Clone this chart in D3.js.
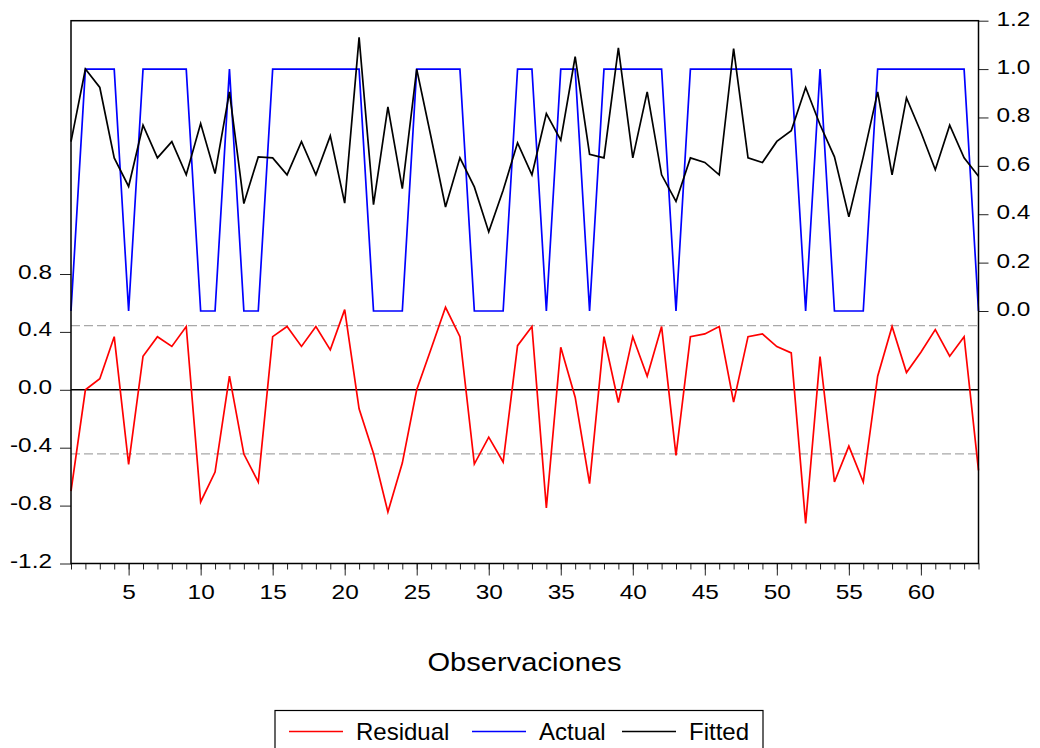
<!DOCTYPE html>
<html lang="es">
<head>
  <meta charset="UTF-8" />
  <title>Residual, Actual, Fitted</title>
  <style>
    body {
      margin: 0;
      background-color: white;
    }
    svg {
      display: block;
      font-family: 'Liberation Sans', Arial, sans-serif;
    }
    .tick line {
      stroke: #222;
    }
  </style>
  <script src="https://d3js.org/d3.v7.min.js"></script>
</head>
<body>
  <div id="chart"></div>

  <script>
    const observations = d3.range(1, 65);

    const actual = [
      0, 1, 1, 1, 0, 1, 1, 1, 1, 0, 0, 1, 0, 0, 1, 1, 1, 1, 1, 1, 1, 0,
      0, 0, 1, 1, 1, 1, 0, 0, 0, 1, 1, 0, 1, 1, 0, 1, 1, 1, 1, 1, 0,
      1, 1, 1, 1, 1, 1, 1, 1, 0, 1, 0, 0, 0, 1, 1, 1, 1, 1, 1, 1, 0
    ];

    const fitted = [
      0.700, 1.000, 0.924, 0.633, 0.515, 0.768, 0.633, 0.700, 0.563, 0.775,
      0.568, 0.906, 0.444, 0.637, 0.633, 0.563, 0.700, 0.563, 0.724, 0.446,
      1.131, 0.440, 0.844, 0.506, 1.000, 0.717, 0.430, 0.633, 0.513, 0.327,
      0.499, 0.695, 0.563, 0.816, 0.706, 1.051, 0.648, 0.633, 1.088, 0.633,
      0.906, 0.563, 0.453, 0.633, 0.614, 0.563, 1.085, 0.633, 0.614, 0.701,
      0.745, 0.924, 0.770, 0.637, 0.389, 0.637, 0.906, 0.563, 0.881, 0.740,
      0.584, 0.768, 0.633, 0.557
    ];

    const residual = [
      -0.700, 0.000, 0.076, 0.367, -0.515, 0.232, 0.367, 0.300, 0.437, -0.775,
      -0.568, 0.094, -0.444, -0.637, 0.367, 0.437, 0.300, 0.437, 0.276, 0.554,
      -0.131, -0.440, -0.844, -0.506, 0.000, 0.283, 0.570, 0.367, -0.513, -0.327,
      -0.499, 0.305, 0.437, -0.816, 0.294, -0.051, -0.648, 0.367, -0.088, 0.367,
      0.094, 0.437, -0.453, 0.367, 0.386, 0.437, -0.085, 0.367, 0.386, 0.299,
      0.255, -0.924, 0.230, -0.637, -0.389, -0.637, 0.094, 0.437, 0.119, 0.260,
      0.416, 0.232, 0.367, -0.557
    ];

    const stdError = 0.443;

    const leftTicks = [-1.2, -0.8, -0.4, 0.0, 0.4, 0.8];
    const rightTicks = [0.0, 0.2, 0.4, 0.6, 0.8, 1.0, 1.2];
    const xLabelTicks = [5, 10, 15, 20, 25, 30, 35, 40, 45, 50, 55, 60];

    const legendItems = [
      { label: "Residual", color: "#ff0000" },
      { label: "Actual", color: "#0000ff" },
      { label: "Fitted", color: "#000000" }
    ];

    const width = 1040;
    const height = 748;
    const box = { left: 71, right: 978.5, top: 20.7, bottom: 563.5 };

    const svg = d3.select("#chart")
      .append("svg")
      .attr("width", width)
      .attr("height", height);

    const x = d3.scaleLinear()
      .domain([1, 64])
      .range([box.left, box.right]);

    // residual axis on the left, actual/fitted axis on the right
    const yLeft = d3.scaleLinear()
      .domain([-1.2, 0.8])
      .range([box.bottom, 274]);

    const yRight = d3.scaleLinear()
      .domain([0, 1.2])
      .range([311, box.top]);

    // stretch text horizontally, the source font is wider than Arial
    function stretch(sel, sx) {
      sel.each(function() {
        const t = d3.select(this);
        const tx = +t.attr("x") || 0;
        t.attr("x", tx / sx).attr("transform", `scale(${sx},1)`);
      });
    }

    const fmt = d => d.toFixed(1);

    // axes
    const leftAxis = svg.append("g")
      .attr("transform", `translate(${box.left},0)`)
      .call(d3.axisLeft(yLeft).tickValues(leftTicks).tickSize(11).tickPadding(8).tickFormat(fmt));

    const rightAxis = svg.append("g")
      .attr("transform", `translate(${box.right},0)`)
      .call(d3.axisRight(yRight).tickValues(rightTicks).tickSize(10).tickPadding(8).tickFormat(fmt));

    const minorAxis = svg.append("g")
      .attr("transform", `translate(0,${box.bottom})`)
      .call(d3.axisBottom(x).tickValues(observations).tickSize(6).tickFormat(""));

    const majorAxis = svg.append("g")
      .attr("transform", `translate(0,${box.bottom})`)
      .call(d3.axisBottom(x).tickValues(xLabelTicks).tickSize(12).tickPadding(9).tickFormat(d3.format("d")));

    [leftAxis, rightAxis, minorAxis, majorAxis].forEach(g => {
      g.select(".domain").remove();
      g.selectAll("text")
        .attr("font-family", "'Liberation Sans', Arial, sans-serif")
        .attr("font-size", 20)
        .attr("fill", "black");
    });
    leftAxis.selectAll("text").attr("dy", "0.2em");
    rightAxis.selectAll("text").attr("dy", "0.22em");
    stretch(leftAxis.selectAll("text"), 1.22);
    stretch(rightAxis.selectAll("text"), 1.22);
    stretch(majorAxis.selectAll("text"), 1.22);

    // reference lines for the residual
    svg.append("g")
      .selectAll("line")
      .data([stdError, -stdError])
      .enter().append("line")
      .attr("x1", box.left)
      .attr("x2", box.right)
      .attr("y1", d => yLeft(d))
      .attr("y2", d => yLeft(d))
      .attr("stroke", "#a8a8a8")
      .attr("stroke-width", 1.2)
      .attr("stroke-dasharray", "9,4");

    svg.append("line")
      .attr("x1", box.left)
      .attr("x2", box.right)
      .attr("y1", yLeft(0))
      .attr("y2", yLeft(0))
      .attr("stroke", "black")
      .attr("stroke-width", 1.4);

    const lineLeft = d3.line()
      .x((d, i) => x(observations[i]))
      .y(d => yLeft(d));

    const lineRight = d3.line()
      .x((d, i) => x(observations[i]))
      .y(d => yRight(d));

    svg.append("path")
      .datum(residual)
      .attr("d", lineLeft)
      .attr("fill", "none")
      .attr("stroke", "#ff0000")
      .attr("stroke-width", 1.7);

    svg.append("path")
      .datum(actual)
      .attr("d", lineRight)
      .attr("fill", "none")
      .attr("stroke", "#0000ff")
      .attr("stroke-width", 1.7);

    svg.append("path")
      .datum(fitted)
      .attr("d", lineRight)
      .attr("fill", "none")
      .attr("stroke", "black")
      .attr("stroke-width", 1.7);

    // frame
    svg.append("rect")
      .attr("x", box.left)
      .attr("y", box.top)
      .attr("width", box.right - box.left)
      .attr("height", box.bottom - box.top)
      .attr("fill", "none")
      .attr("stroke", "black")
      .attr("stroke-width", 1.5);

    // x axis title
    const xTitle = svg.append("text")
      .attr("x", 524.5)
      .attr("y", 671)
      .attr("text-anchor", "middle")
      .attr("font-size", 26)
      .attr("fill", "black")
      .text("Observaciones");
    stretch(xTitle, 1.12);

    // legend
    const legend = svg.append("g");
    legend.append("rect")
      .attr("x", 275)
      .attr("y", 710.5)
      .attr("width", 488)
      .attr("height", 60)
      .attr("fill", "white")
      .attr("stroke", "black")
      .attr("stroke-width", 1.2);

    const legendX = [289, 472, 622];
    legendItems.forEach((item, i) => {
      const g = legend.append("g").attr("transform", `translate(${legendX[i]},731.5)`);
      g.append("line")
        .attr("x1", 0)
        .attr("x2", 54)
        .attr("stroke", item.color)
        .attr("stroke-width", 1.7);
      g.append("text")
        .attr("x", 67)
        .attr("y", 8.5)
        .attr("font-size", 24)
        .attr("fill", "black")
        .text(item.label);
    });
  </script>
</body>
</html>
